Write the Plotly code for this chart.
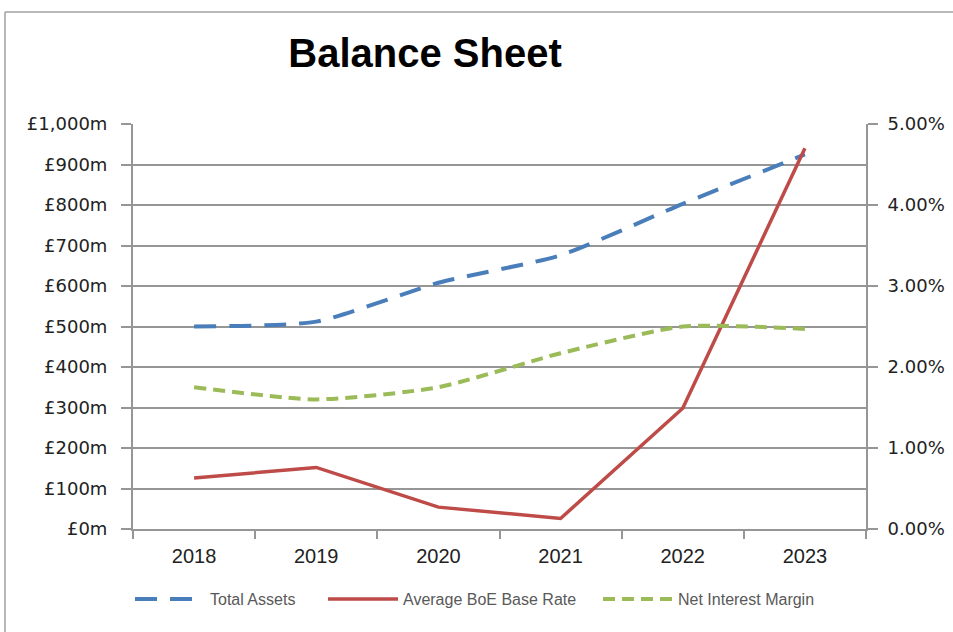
import plotly.graph_objects as go

years = ["2018", "2019", "2020", "2021", "2022", "2023"]
total_assets = [500, 512, 608, 676, 803, 925]          # £m, left axis
boe_rate = [0.0063, 0.0076, 0.0027, 0.0013, 0.0149, 0.0470]  # right axis
nim = [0.0175, 0.0160, 0.0175, 0.0217, 0.0250, 0.0247]       # right axis
left_ticks = [0, 100, 200, 300, 400, 500, 600, 700, 800, 900, 1000]
left_ticktext = ["£0m", "£100m", "£200m", "£300m", "£400m", "£500m",
                 "£600m", "£700m", "£800m", "£900m", "£1,000m"]
right_ticks = [0, 0.01, 0.02, 0.03, 0.04, 0.05]
right_ticktext = ["0.00%", "1.00%", "2.00%", "3.00%", "4.00%", "5.00%"]

W, H = 953, 632
L, R, T, B = 133, 866, 124, 529
pw, ph = R - L, B - T

def px(x):
    return (x - L) / pw

def py(y):
    return (B - y) / ph

blue = "#4a7ebb"
red = "#be4b48"
green = "#9bbb59"
grid = "#969696"

fig = go.Figure()
fig.add_trace(go.Scatter(
    x=years, y=total_assets, name="Total Assets", mode="lines",
    line=dict(color=blue, width=4, dash="22px,13px", shape="spline", smoothing=0.6),
    legend="legend", showlegend=True))
fig.add_trace(go.Scatter(
    x=years, y=boe_rate, name="Average BoE Base Rate", mode="lines",
    line=dict(color=red, width=3.5), yaxis="y2", legend="legend2", showlegend=True))
fig.add_trace(go.Scatter(
    x=years, y=nim, name="Net Interest Margin", mode="lines",
    line=dict(color=green, width=4, dash="12px,7px", shape="spline", smoothing=0.6),
    yaxis="y2", legend="legend3", showlegend=True))

legfont = dict(family="Liberation Sans, sans-serif", size=16, color="#595959")
common_leg = dict(orientation="h", yanchor="middle", y=py(599), xanchor="left",
                  bgcolor="rgba(0,0,0,0)", font=legfont, itemwidth=70)

fig.update_layout(
    width=W, height=H, showlegend=True,
    margin=dict(l=L, r=W - R, t=T, b=H - B, pad=0, autoexpand=False),
    paper_bgcolor="white", plot_bgcolor="white",
    title=dict(text="<b>Balance Sheet</b>", x=px(425), xref="paper", xanchor="center",
               y=1 - 53 / H, yanchor="middle",
               font=dict(family="Liberation Sans, sans-serif", size=40, color="black")),
    xaxis=dict(type="category", showgrid=False, showline=True, linecolor=grid, linewidth=1.5,
               ticks="outside", tickson="boundaries", ticklen=8, tickcolor=grid, tickwidth=1.5,
               tickfont=dict(family="Liberation Sans, sans-serif", size=20, color="#222222"),
               ticklabelstandoff=8, range=[-0.5, 5.5], automargin=False),
    yaxis=dict(range=[0, 1000], tickvals=left_ticks, ticktext=left_ticktext,
               showgrid=True, gridcolor=grid, gridwidth=1.5,
               showline=True, linecolor=grid, linewidth=2,
               ticks="outside", ticklen=10, tickcolor=grid, tickwidth=1.5,
               tickfont=dict(family="DejaVu Sans, Verdana, sans-serif", size=18, color="#222222"),
               ticklabelstandoff=10, zeroline=False, automargin=False),
    yaxis2=dict(range=[0, 0.05], tickvals=right_ticks, ticktext=right_ticktext,
                overlaying="y", side="right", showgrid=False,
                showline=True, linecolor=grid, linewidth=2,
                ticks="outside", ticklen=10, tickcolor=grid, tickwidth=1.5,
                tickfont=dict(family="DejaVu Sans, Verdana, sans-serif", size=18, color="#222222"),
                ticklabelstandoff=6, zeroline=False, automargin=False),
    legend=dict(x=px(130), **common_leg),
    legend2=dict(x=px(323), **common_leg),
    legend3=dict(x=px(598), **common_leg),
    shapes=[
        dict(type="line", xref="paper", yref="paper", x0=px(5), x1=px(960), y0=py(12), y1=py(12),
             line=dict(color="#a0a0a0", width=1.5)),
        dict(type="line", xref="paper", yref="paper", x0=px(5), x1=px(5), y0=py(12), y1=py(640),
             line=dict(color="#a0a0a0", width=1.5)),
    ],
)

fig.write_html("out.html")
